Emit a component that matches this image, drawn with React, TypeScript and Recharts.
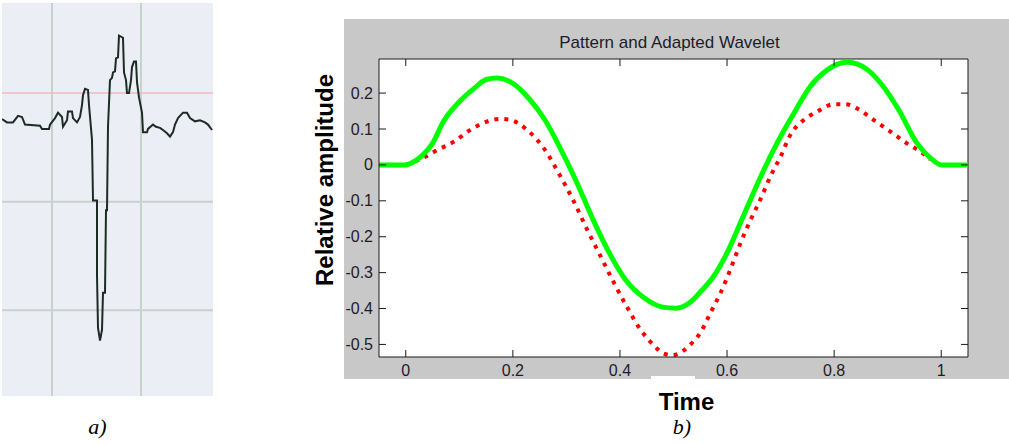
import React from 'react';
import {
  LineChart,
  Line,
  XAxis,
  YAxis,
  CartesianGrid,
  ReferenceLine,
} from 'recharts';

// panel a) - raw ECG beat (sample index / mV)
const ecgSample = [
  2, 7, 13, 18, 22, 25, 40, 42, 49, 50, 55, 58, 62, 63, 67, 68, 72, 73, 77, 80,
  82, 83, 85, 88, 89, 92, 93, 97, 97, 98, 100, 102, 103, 105, 106, 107, 108,
  110, 112, 113, 115, 116, 118, 119, 123, 124, 126, 127, 129, 131, 132, 134,
  136, 137, 139, 142, 143, 147, 148, 153, 156, 160, 163, 167, 170, 173, 175,
  178, 183, 187, 190, 195, 200, 205, 208, 212,
];
const ecgValue = [
  -0.24, -0.27, -0.27, -0.21, -0.22, -0.29, -0.3, -0.33, -0.33, -0.29, -0.23,
  -0.18, -0.22, -0.31, -0.25, -0.17, -0.17, -0.23, -0.27, -0.22, -0.11, -0.02,
  0.04, 0.03, -0.11, -0.43, -0.99, -0.99, -1.68, -2.16, -2.28, -2.18, -1.84,
  -1.84, -1.08, -1.08, -0.31, 0.12, 0.14, 0.19, 0.2, 0.32, 0.33, 0.53, 0.51,
  0.19, 0.12, 0, 0, 0.12, 0.24, 0.29, 0.29, 0.1, -0.04, -0.18, -0.36, -0.36,
  -0.33, -0.29, -0.31, -0.32, -0.34, -0.37, -0.4, -0.36, -0.29, -0.23, -0.18,
  -0.18, -0.23, -0.26, -0.25, -0.27, -0.29, -0.34,
];
const ecgGridX = [52, 141];
const ecgGridY = [-1, -2];

// panel b) - pattern (green) and adapted wavelet (red dotted)
const patternTime = [
  -0.05, 0, 0.01, 0.03, 0.05, 0.07, 0.1, 0.13, 0.15, 0.17, 0.2, 0.23, 0.26,
  0.29, 0.32, 0.35, 0.38, 0.41, 0.445, 0.48, 0.505, 0.53, 0.55, 0.575, 0.6,
  0.63, 0.66, 0.69, 0.725, 0.755, 0.785, 0.805, 0.825, 0.845, 0.865, 0.89,
  0.92, 0.955, 0.98, 1.0, 1.05,
];
const patternValue = [
  0, 0, 0.005, 0.025, 0.06, 0.12, 0.176, 0.216, 0.238, 0.242, 0.227, 0.185,
  0.125, 0.042, -0.051, -0.153, -0.245, -0.319, -0.37, -0.396, -0.399, -0.384,
  -0.354, -0.31, -0.245, -0.144, -0.042, 0.051, 0.144, 0.218, 0.262, 0.28,
  0.286, 0.28, 0.262, 0.222, 0.155, 0.06, 0.019, 0, 0,
];
const waveletTime = [
  0, 0.03, 0.06, 0.09, 0.12, 0.15, 0.177, 0.196, 0.227, 0.258, 0.289, 0.314,
  0.339, 0.364, 0.389, 0.414, 0.438, 0.463, 0.481, 0.498, 0.52, 0.537, 0.55,
  0.569, 0.588, 0.606, 0.625, 0.644, 0.662, 0.681, 0.7, 0.718, 0.743, 0.768,
  0.799, 0.821, 0.843, 0.874, 0.905, 0.936, 0.961, 0.98,
];
const waveletValue = [
  0, 0.018, 0.042, 0.065, 0.097, 0.12, 0.128, 0.125, 0.097, 0.046, -0.032,
  -0.102, -0.181, -0.255, -0.329, -0.398, -0.458, -0.502, -0.525, -0.53,
  -0.516, -0.492, -0.468, -0.412, -0.356, -0.292, -0.218, -0.153, -0.097,
  -0.032, 0.023, 0.083, 0.125, 0.148, 0.169, 0.169, 0.157, 0.125, 0.093, 0.06,
  0.037, 0.015,
];
const timeTicks = [0, 0.2, 0.4, 0.6, 0.8, 1];
const ampTicks = [0.2, 0.1, 0, -0.1, -0.2, -0.3, -0.4, -0.5];

const ecgData = ecgSample.map((s, i) => ({ s, v: ecgValue[i] }));
const patternData = patternTime.map((t, i) => ({ t, v: patternValue[i] }));
const waveletData = waveletTime.map((t, i) => ({ t, v: waveletValue[i] }));

const AXIS = '#1a1a1a';
const TICK_TEXT = '#1c1c2a';
const SANS = '"Liberation Sans", Arial, sans-serif';
const SERIF = '"Liberation Serif", "Times New Roman", serif';
const PLOT_W = 589;
const PLOT_H = 298;

// MATLAB style: ticks point inward, mirrored on the opposite side of the box
const renderBottomTick = (props: any) => {
  const { x, y, payload } = props;
  return (
    <g key={'bt' + payload.value}>
      <line x1={x} y1={y} x2={x} y2={y - 7} stroke={AXIS} />
      <line x1={x} y1={y - PLOT_H} x2={x} y2={y - PLOT_H + 7} stroke={AXIS} />
      <text
        x={x}
        y={y + 19}
        textAnchor="middle"
        fontSize={16}
        fontFamily={SANS}
        fill={TICK_TEXT}
      >
        {String(payload.value)}
      </text>
    </g>
  );
};

const renderLeftTick = (props: any) => {
  const { x, y, payload } = props;
  return (
    <g key={'lt' + payload.value}>
      <line x1={x} y1={y} x2={x + 7} y2={y} stroke={AXIS} />
      <line x1={x + PLOT_W} y1={y} x2={x + PLOT_W - 7} y2={y} stroke={AXIS} />
      <text
        x={x - 6}
        y={y + 5.5}
        textAnchor="end"
        fontSize={16}
        fontFamily={SANS}
        fill={TICK_TEXT}
      >
        {String(payload.value)}
      </text>
    </g>
  );
};

const EcgPanel = () => (
  <div
    style={{
      position: 'absolute',
      left: 2,
      top: 3,
      width: 211,
      height: 393,
      background: '#eceef6',
    }}
  >
    <LineChart
      width={211}
      height={393}
      data={ecgData}
      margin={{ top: 0, right: 0, bottom: 0, left: 0 }}
    >
      <XAxis type="number" dataKey="s" domain={[2, 213]} allowDataOverflow hide />
      <YAxis type="number" domain={[-2.79, 0.83]} allowDataOverflow hide />
      {ecgGridX.map((gx) => (
        <ReferenceLine key={'x' + gx} x={gx} stroke="#c6d3cc" strokeWidth={2} />
      ))}
      {ecgGridY.map((gy) => (
        <ReferenceLine key={'y' + gy} y={gy} stroke="#c6d3cc" strokeWidth={2} />
      ))}
      <ReferenceLine y={0} stroke="#f0b7c1" strokeWidth={1.5} />
      <Line
        type="linear"
        dataKey="v"
        stroke="#1d2b25"
        strokeWidth={2}
        dot={false}
        isAnimationActive={false}
      />
    </LineChart>
  </div>
);

const WaveletPanel = () => (
  <div
    style={{
      position: 'absolute',
      left: 344,
      top: 19,
      width: 665,
      height: 360,
      background: '#c8c8c8',
    }}
  >
    <LineChart
      width={665}
      height={360}
      data={patternData}
      margin={{ top: 40, right: 41, bottom: 21, left: 34 }}
      style={{ overflow: 'visible' }}
    >
      <CartesianGrid horizontal={false} vertical={false} fill="#ffffff" />
      <XAxis
        type="number"
        dataKey="t"
        domain={[-0.05, 1.05]}
        allowDataOverflow
        ticks={timeTicks}
        height={1}
        tickSize={0}
        tickMargin={0}
        tickLine={false}
        axisLine={{ stroke: AXIS }}
        tick={renderBottomTick}
        interval={0}
      />
      <YAxis
        type="number"
        domain={[-0.535, 0.295]}
        allowDataOverflow
        ticks={ampTicks}
        width={1}
        tickSize={0}
        tickMargin={0}
        tickLine={false}
        axisLine={{ stroke: AXIS }}
        tick={renderLeftTick}
        interval={0}
      />
      <ReferenceLine y={0.295} stroke={AXIS} />
      <ReferenceLine x={1.05} stroke={AXIS} />
      <Line
        data={waveletData}
        type="monotone"
        dataKey="v"
        stroke="#ff0000"
        strokeWidth={4}
        strokeDasharray="4 6"
        dot={false}
        isAnimationActive={false}
      />
      <Line
        data={patternData}
        type="monotone"
        dataKey="v"
        stroke="#00ff00"
        strokeWidth={5}
        dot={false}
        isAnimationActive={false}
      />
    </LineChart>
  </div>
);

export default function App() {
  return (
    <div
      style={{
        position: 'absolute',
        left: 0,
        top: 0,
        width: 1009,
        height: 444,
        background: '#ffffff',
        overflow: 'hidden',
      }}
    >
      <EcgPanel />
      <WaveletPanel />
      <svg
        width={1009}
        height={444}
        style={{ position: 'absolute', left: 0, top: 0, pointerEvents: 'none' }}
      >
        <rect x={651} y={376} width={44} height={3} fill="#ffffff" />
        <text
          x={669.5}
          y={48}
          textAnchor="middle"
          fontSize={17}
          fontFamily={SANS}
          fill={TICK_TEXT}
        >
          Pattern and Adapted Wavelet
        </text>
        <text
          x={333}
          y={180}
          transform="rotate(-90 333 180)"
          textAnchor="middle"
          fontSize={24}
          fontWeight="bold"
          fontFamily={SANS}
          fill="#000"
        >
          Relative amplitude
        </text>
        <text
          x={686.5}
          y={410}
          textAnchor="middle"
          fontSize={24}
          fontWeight="bold"
          fontFamily={SANS}
          fill="#000"
        >
          Time
        </text>
        <text
          x={682}
          y={434}
          textAnchor="middle"
          fontSize={22}
          fontStyle="italic"
          fontFamily={SERIF}
          fill="#000"
        >
          b)
        </text>
        <text
          x={97.5}
          y={434}
          textAnchor="middle"
          fontSize={22}
          fontStyle="italic"
          fontFamily={SERIF}
          fill="#000"
        >
          a)
        </text>
      </svg>
    </div>
  );
}
